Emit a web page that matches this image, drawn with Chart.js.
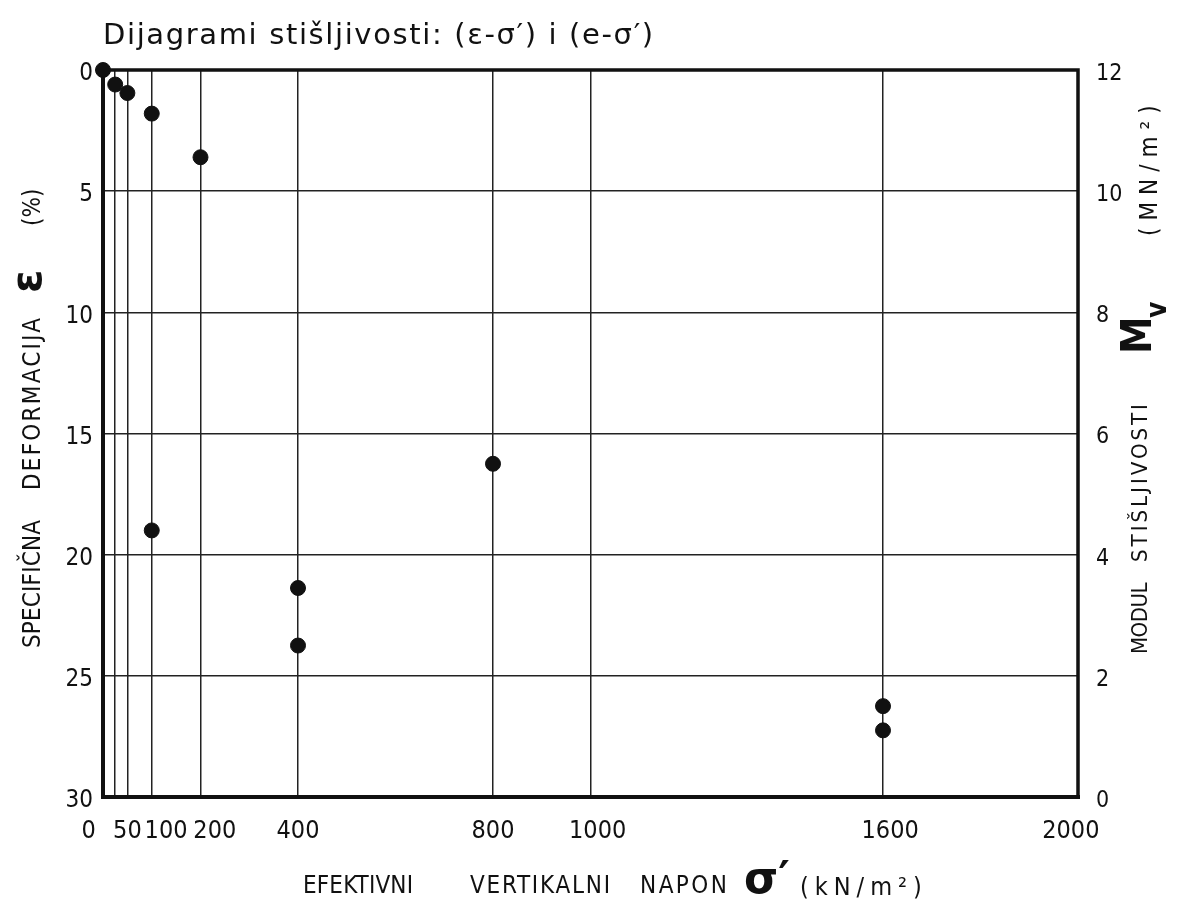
<!DOCTYPE html>
<html>
<head>
<meta charset="utf-8">
<script src="https://cdn.jsdelivr.net/npm/chart.js@4"></script>
<style>
  html, body { margin: 0; padding: 0; background: #fff; }
  #wrap { width: 1180px; height: 904px; }
</style>
</head>
<body>
<div id="wrap"><canvas id="c" width="1180" height="904"></canvas></div>
<script>
// stress axis (kN/m2)
const stressTicks = [0, 25, 50, 100, 200, 400, 800, 1000, 1600, 2000];
const epsTicks = [0, 5, 10, 15, 20, 25, 30];
const mvTicks = [0, 2, 4, 6, 8, 10, 12];

// specific deformation eps (%) -> left axis
const epsStress = [0, 25, 50, 100, 200];
const epsValues = [0, 0.6, 0.95, 1.8, 3.6];

// modulus Mv (MN/m2) -> right axis
const mvStress = [100, 400, 400, 800, 1600, 1600];
const mvValues = [4.4, 3.45, 2.5, 5.5, 1.5, 1.1];

const COND = "'DejaVu Sans Condensed', 'DejaVu Sans', sans-serif";
const INK = "#111";
const FS = "\u2007"; // figure space, nudges crowded tick labels like the hand-lettered ones

// hand-placed x tick labels (the drawing is not centred on the lines)
function stressLabel(v) {
  if (v === 25) return "";
  if (v === 0) return "0" + FS + FS;
  if (v === 100 || v === 200) return FS + FS + v;
  if (v === 1000 || v === 1600) return FS + v;
  if (v === 2000) return v + FS;
  return String(v);
}

// frame + lettered axis titles
const paperPlugin = {
  id: "paper",
  beforeDatasetsDraw(chart) {
    const { ctx, chartArea: a } = chart;
    ctx.save();
    ctx.strokeStyle = INK;
    ctx.lineCap = "square";
    ctx.lineWidth = 4;
    ctx.beginPath();
    ctx.moveTo(a.left, a.top); ctx.lineTo(a.left, a.bottom); ctx.lineTo(a.right, a.bottom);
    ctx.stroke();
    ctx.lineWidth = 3.5;
    ctx.beginPath();
    ctx.moveTo(a.left, a.top); ctx.lineTo(a.right, a.top); ctx.lineTo(a.right, a.bottom);
    ctx.stroke();
    ctx.restore();
  },
  afterDraw(chart) {
    const ctx = chart.ctx;
    // draw txt from (x,y); spread letters a little toward span (stencil lettering is airy)
    const put = (txt, font, x, y, rot, span, maxLs) => {
      ctx.save();
      ctx.translate(x, y);
      ctx.rotate(rot || 0);
      ctx.font = font;
      ctx.fillStyle = INK;
      ctx.textBaseline = "alphabetic";
      ctx.textAlign = "left";
      const n = [...txt].length;
      if (span && n > 1) {
        ctx.letterSpacing = "0px";
        const w = ctx.measureText(txt).width;
        const ls = Math.max(-0.5, Math.min(maxLs || 3, (span - w) / (n - 1)));
        ctx.letterSpacing = ls.toFixed(2) + "px";
      }
      ctx.fillText(txt, 0, 0);
      ctx.restore();
    };
    const up = -Math.PI / 2;

    // title
    put("Dijagrami stišljivosti: (ε-σ′) i (e-σ′)", "29px 'DejaVu Sans', sans-serif", 103, 44, 0, 550);

    // left
    put("SPECIFIČNA", "24px " + COND, 40, 648, up, 128);
    put("DEFORMACIJA", "24px " + COND, 40, 490, up, 172);
    put("ε", "bold 42px 'DejaVu Sans', sans-serif", 41, 293, up);
    put("(%)", "24px " + COND, 40, 226, up);

    // right
    put("MODUL", "22px " + COND, 1147, 654, up, 64);
    put("STIŠLJIVOSTI", "22px " + COND, 1147, 562, up, 162);
    put("M", "bold 42px " + COND, 1151, 354, up);
    put("v", "bold 28px " + COND, 1166, 318, up);
    put("(MN/m²)", "24px " + COND, 1157, 236, up, 134, 7);

    // bottom
    put("EFEKTIVNI", "24px " + COND, 303, 893, 0, 110);
    put("VERTIKALNI", "24px " + COND, 470, 893, 0, 140);
    put("NAPON", "24px " + COND, 640, 893, 0, 87);
    put("σ′", "bold 44px 'DejaVu Sans', sans-serif", 744, 893);
    put("(kN/m²)", "25px " + COND, 800, 895, 0, 134, 6);
  }
};

const ctx = document.getElementById("c").getContext("2d");
new Chart(ctx, {
  type: "scatter",
  data: {
    datasets: [
      {
        label: "ε",
        data: epsStress.map((s, i) => ({ x: s, y: epsValues[i] })),
        yAxisID: "yEps",
        backgroundColor: INK,
        borderColor: INK,
        pointRadius: 7.5,
        clip: false
      },
      {
        label: "Mv",
        data: mvStress.map((s, i) => ({ x: s, y: mvValues[i] })),
        yAxisID: "yMv",
        backgroundColor: INK,
        borderColor: INK,
        pointRadius: 7.5,
        clip: false
      }
    ]
  },
  options: {
    responsive: false,
    animation: false,
    layout: { padding: { top: 70, left: 0, right: 0, bottom: 0 } },
    plugins: { legend: { display: false }, tooltip: { enabled: false } },
    scales: {
      x: {
        type: "linear",
        min: 0,
        max: 2000,
        afterBuildTicks(s) { s.ticks = stressTicks.map(v => ({ value: v })); },
        afterFit(s) { s.height = 107; },
        ticks: {
          autoSkip: false,
          maxRotation: 0,
          padding: 19,
          color: INK,
          font: { family: COND, size: 25 },
          callback: v => stressLabel(v)
        },
        grid: { color: "#222", lineWidth: 1.5, drawTicks: false },
        border: { display: false }
      },
      yEps: {
        type: "linear",
        position: "left",
        reverse: true,
        min: 0,
        max: 30,
        afterBuildTicks(s) { s.ticks = epsTicks.map(v => ({ value: v })); },
        afterFit(s) { s.width = 103; },
        ticks: { padding: 10, labelOffset: 4, color: INK, font: { family: COND, size: 24 } },
        grid: { color: "#222", lineWidth: 1.5, drawTicks: false },
        border: { display: false }
      },
      yMv: {
        type: "linear",
        position: "right",
        min: 0,
        max: 12,
        afterBuildTicks(s) { s.ticks = mvTicks.map(v => ({ value: v })); },
        afterFit(s) { s.width = 102; },
        ticks: { padding: 10, labelOffset: 4, color: INK, font: { family: COND, size: 23 } },
        grid: { display: false },
        border: { display: false }
      }
    }
  },
  plugins: [paperPlugin]
});
</script>
</body>
</html>
